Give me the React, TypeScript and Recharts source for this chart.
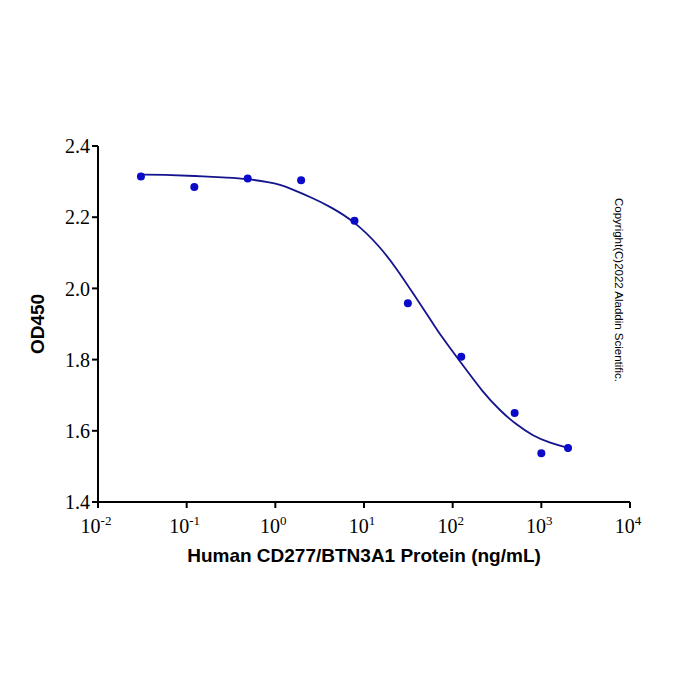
import React from 'react';
import { ComposedChart, Line, Scatter, XAxis, YAxis } from 'recharts';

// measured OD450 values
const concentrations = [0.0305, 0.122, 0.488, 1.953, 7.81, 31.25, 125, 500, 1000, 2000];
const od450 = [2.314, 2.285, 2.309, 2.304, 2.19, 1.958, 1.808, 1.65, 1.537, 1.552];

// fitted curve
const curveX = [0.0305, 0.055, 0.12, 0.31, 0.47, 0.87, 1.13, 1.46, 2.68, 4.13, 7.85, 15.1, 23.4, 36, 55.5, 72, 126, 221, 342, 505, 811, 1253, 2014];
const curveY = [2.32, 2.319, 2.316, 2.311, 2.308, 2.298, 2.291, 2.281, 2.253, 2.23, 2.188, 2.118, 2.055, 1.985, 1.915, 1.87, 1.789, 1.707, 1.657, 1.62, 1.585, 1.566, 1.552];

const xTicks = [0.01, 0.1, 1, 10, 100, 1000, 10000];
const xTickExponents = ['-2', '-1', '0', '1', '2', '3', '4'];
const yTicks = [1.4, 1.6, 1.8, 2.0, 2.2, 2.4];

const points = concentrations.map((x, i) => ({ x, y: od450[i] }));
const curve = curveX.map((x, i) => ({ x, y: curveY[i] }));

const serif = '"Liberation Serif", "Times New Roman", serif';
const sans = '"Liberation Sans", Arial, sans-serif';

function PowerTick(props: any) {
    const { x, y, payload } = props;
    const exp = xTickExponents[xTicks.indexOf(payload.value)] ?? '';
    return (
        <text x={x - 2} y={y + 23} textAnchor="middle" fill="#000" fontFamily={serif} fontSize={20}>
            <tspan>10</tspan>
            <tspan dy={-8} fontSize={13}>{exp}</tspan>
        </text>
    );
}

export default function App() {
    return (
        <div style={{ position: 'absolute', left: 0, top: 0, width: 700, height: 700, background: '#fff' }}>
            <ComposedChart
                width={700}
                height={700}
                margin={{ top: 146, right: 70, bottom: 168, left: 0 }}
            >
                <XAxis
                    dataKey="x"
                    type="number"
                    scale="log"
                    domain={[0.01, 10000]}
                    ticks={xTicks}
                    allowDataOverflow
                    height={30}
                    axisLine={{ stroke: '#000', strokeWidth: 2 }}
                    tickLine={{ stroke: '#000', strokeWidth: 2 }}
                    tickSize={6}
                    tick={<PowerTick />}
                    label={{
                        value: 'Human CD277/BTN3A1 Protein (ng/mL)',
                        position: 'insideBottom',
                        offset: -30,
                        style: { fontFamily: sans, fontSize: 19, fontWeight: 'bold', fill: '#000' },
                    }}
                />
                <YAxis
                    dataKey="y"
                    type="number"
                    domain={[1.4, 2.4]}
                    ticks={yTicks}
                    width={98}
                    axisLine={{ stroke: '#000', strokeWidth: 2 }}
                    tickLine={{ stroke: '#000', strokeWidth: 2 }}
                    tickSize={6}
                    tickMargin={2}
                    tickFormatter={(v: number) => v.toFixed(1)}
                    tick={{ fill: '#000', fontFamily: serif, fontSize: 20 }}
                    label={{
                        value: 'OD450',
                        angle: -90,
                        position: 'insideLeft',
                        offset: 37,
                        style: { fontFamily: sans, fontSize: 19, fontWeight: 'bold', fill: '#000', textAnchor: 'middle' },
                    }}
                />
                <Line
                    data={curve}
                    dataKey="y"
                    type="basis"
                    stroke="#14148c"
                    strokeWidth={1.8}
                    dot={false}
                    isAnimationActive={false}
                />
                <Scatter
                    data={points}
                    dataKey="y"
                    fill="#0a0ac8"
                    shape={(p: any) => <circle cx={p.cx} cy={p.cy} r={4} fill="#0a0ac8" />}
                    isAnimationActive={false}
                />
            </ComposedChart>
            <svg width={700} height={700} style={{ position: 'absolute', left: 0, top: 0, pointerEvents: 'none' }}>
                <text
                    x={0}
                    y={0}
                    transform="translate(615 290) rotate(90)"
                    textAnchor="middle"
                    fontFamily={sans}
                    fontSize={11.5}
                    fill="#000"
                >
                    Copyright(C)2022 Aladdin Scientific.
                </text>
            </svg>
        </div>
    );
}
